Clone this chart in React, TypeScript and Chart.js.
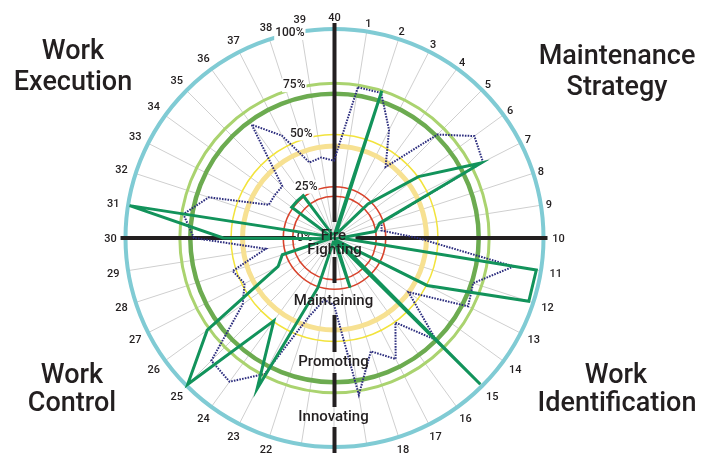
import React, { useEffect, useRef } from "react";
import { Chart, registerables } from "chart.js";

Chart.register(...registerables);

// ---- data ----
const SPOKE_LABELS = [
  "1", "2", "3", "4", "5", "6", "7", "8", "9", "10",
  "11", "12", "13", "14", "15", "16", "17", "18", "19", "20",
  "21", "22", "23", "24", "25", "26", "27", "28", "29", "30",
  "31", "32", "33", "34", "35", "36", "37", "38", "39", "40",
];

const GREEN_VALUES = [
  2, 74, 2, 3, 23, 50, 79, 23, 20, 3,
  98, 98, 50, 3, 99, 3, 2, 25, 2, 2,
  2, 25, 81, 49, 99, 75, 30, 26, 2, 53,
  99, 2, 2, 25, 25, 25, 2, 2, 2, 2,
];

const NAVY_VALUES = [
  73, 73, 58, 42, 70, 83, 80, 24, 23, 40,
  87, 70, 72, 44, 69, 50, 65, 57, 76, 32,
  30, 40, 73, 85, 83, 54, 48, 51, 33, 67,
  73, 63, 35, 35, 35, 67, 55, 38, 39, 37,
];

const RING_VALUES = [100, 74, 69, 49.5, 44, 24.5, 20];
const PCT_VALUES = [100, 75, 50, 25, 0];
const PCT_LABELS = ["100%", "75%", "50%", "25%", "0%"];
const CENTER_LABEL = ["Fire", "Fighting"];
const LEVEL_LABELS = ["Maintaining", "Promoting", "Innovating"];
const QUADRANT_LABELS = [
  ["Work", "Execution"],
  ["Maintenance", "Strategy"],
  ["Work", "Control"],
  ["Work", "Identification"],
];

// ---- styles / layout ----
const RING_STYLE = [
  { color: "#80cbd4", width: 4 },
  { color: "#aad36f", width: 3 },
  { color: "#6cab50", width: 4.5 },
  { color: "#f2e33c", width: 1.5 },
  { color: "#f7e192", width: 5 },
  { color: "#d8432c", width: 1.6 },
  { color: "#d8432c", width: 1.6 },
];
const INK = "#231f20";
const PCT_DX = [-30, -29, -22, -17, -22];
const PCT_DY = [4, 4, 0, 1, 0];
const LEVEL_DY = [63, 124, 179];
const QUAD_POS = [
  [[73, 52], [73, 83]],
  [[617, 57], [617, 88]],
  [[72, 376], [72, 404]],
  [[616, 376], [617, 404]],
];

const overlay = {
  id: "overlay",
  beforeDatasetsDraw(chart: any) {
    const s = chart.scales.r;
    const ctx = chart.ctx as CanvasRenderingContext2D;
    const cx = s.xCenter + 0.5;
    const cy = s.yCenter;
    ctx.save();
    RING_VALUES.forEach((v, i) => {
      ctx.beginPath();
      ctx.arc(cx, cy, s.getDistanceFromCenterForValue(v), 0, Math.PI * 2);
      ctx.strokeStyle = RING_STYLE[i].color;
      ctx.lineWidth = RING_STYLE[i].width;
      ctx.stroke();
    });
    // axes
    ctx.strokeStyle = INK;
    ctx.lineWidth = 4;
    ctx.lineCap = "butt";
    const R = s.getDistanceFromCenterForValue(100);
    const segs: number[][] = [
      [cx, cy - R - 6, cx, cy - 16],
      [cx, cy + 19, cx, cy + 45],
      [cx, cy + 77, cx, cy + 114],
      [cx, cy + 135, cx, cy + 169],
      [cx, cy + 189, cx, cy + 220],
      [cx - R - 5, cy, cx - 37, cy],
      [cx + 21, cy, cx + R + 4, cy],
    ];
    segs.forEach(([x1, y1, x2, y2]) => {
      ctx.beginPath();
      ctx.moveTo(x1, y1);
      ctx.lineTo(x2, y2);
      ctx.stroke();
    });
    // percent labels
    ctx.font = "500 12px Roboto";
    ctx.textAlign = "right";
    ctx.textBaseline = "middle";
    PCT_VALUES.forEach((v, i) => {
      const x = cx + PCT_DX[i];
      const y = cy - s.getDistanceFromCenterForValue(v) + PCT_DY[i];
      const w = ctx.measureText(PCT_LABELS[i]).width;
      ctx.fillStyle = "#ffffff";
      ctx.fillRect(x - w - 1, y - 7, w + 2, 14);
      ctx.fillStyle = INK;
      ctx.fillText(PCT_LABELS[i], x, y);
    });
    ctx.restore();
  },
  afterDatasetsDraw(chart: any) {
    const s = chart.scales.r;
    const ctx = chart.ctx as CanvasRenderingContext2D;
    const cx = s.xCenter + 0.5;
    const cy = s.yCenter;
    const R = s.getDistanceFromCenterForValue(100);
    ctx.save();
    ctx.fillStyle = INK;
    ctx.textAlign = "center";
    ctx.textBaseline = "middle";
    // spoke labels
    ctx.font = "500 11px Roboto";
    SPOKE_LABELS.forEach((lab, i) => {
      const a = s.getIndexAngle(i);
      const n = lab.length;
      const r = R + 4 + 4 * n + 3 * Math.abs(Math.sin(a)) * (n - 1);
      const y = cy - r * Math.cos(a) + 1;
      if (y > 452) return;
      ctx.fillText(lab, cx + r * Math.sin(a), y);
    });
    // centre labels
    ctx.font = "500 15px Roboto";
    ctx.fillText(CENTER_LABEL[0], cx - 1, cy - 2);
    ctx.fillText(CENTER_LABEL[1], cx, cy + 12);
    LEVEL_LABELS.forEach((lab, i) => {
      ctx.fillText(lab, cx - 1, cy + LEVEL_DY[i]);
    });
    // quadrant labels
    ctx.font = "500 27px Roboto";
    QUADRANT_LABELS.forEach((lines, qi) => {
      lines.forEach((t, li) => {
        const [x, y] = QUAD_POS[qi][li];
        ctx.fillText(t, x, y);
      });
    });
    ctx.restore();
  },
};

export default function App() {
  const ref = useRef<HTMLCanvasElement | null>(null);
  useEffect(() => {
    if (!ref.current) return;
    const chart = new Chart(ref.current, {
      type: "radar",
      data: {
        labels: SPOKE_LABELS,
        datasets: [
          {
            label: "Green",
            data: GREEN_VALUES,
            borderColor: "#12935b",
            borderWidth: 3,
            pointRadius: 0,
            fill: false,
            tension: 0,
            order: 0,
            borderJoinStyle: "miter",
          },
          {
            label: "Navy",
            data: NAVY_VALUES,
            borderColor: "#2c2d7e",
            borderWidth: 2,
            borderDash: [1.6, 1.2],
            pointRadius: 0,
            fill: false,
            tension: 0,
            order: 1,
          },
        ],
      },
      options: {
        responsive: false,
        animation: false,
        layout: { padding: { left: 125, right: 168, top: 29, bottom: 5 } },
        plugins: { legend: { display: false }, tooltip: { enabled: false } },
        scales: {
          r: {
            min: 0,
            max: 100,
            startAngle: 9,
            ticks: { display: false },
            grid: { display: false },
            angleLines: { display: true, color: "#cfcfcf", lineWidth: 1 },
            pointLabels: { display: false },
          },
        },
      } as any,
      plugins: [overlay],
    } as any);
    return () => chart.destroy();
  }, []);
  return (
    <div style={{ position: "absolute", left: 0, top: 0, width: 712, height: 453, background: "#fff" }}>
      <canvas ref={ref} width={712} height={453} style={{ display: "block" }} />
    </div>
  );
}
